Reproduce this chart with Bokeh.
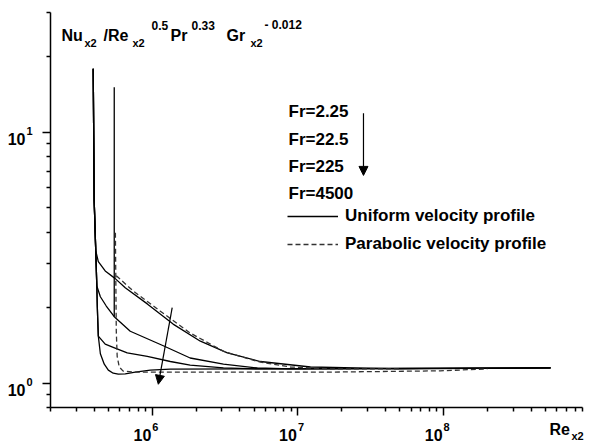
import math
from bokeh.plotting import figure
from bokeh.models import (Range1d, FixedTicker, CustomJSTickFormatter, Label, Arrow,
                          NormalHead, Legend, LegendItem, LogAxis)
from bokeh.embed import file_html
from bokeh.resources import INLINE

# ---------------- data ----------------
# Uniform velocity profile (solid), Fr = 2.25, 22.5, 225, 4500
re_u1 = [3.93e5, 3.99e5, 4.09e5, 4.26e5, 4.75e5, 5.57e5, 6.52e5, 9.24e5, 1.39e6, 2.14e6,
         3.28e6, 5.52e6, 1.22e7, 5.06e7, 5.43e8]
nu_u1 = [17.9, 5.35, 3.37, 3.05, 2.80, 2.61, 2.40, 2.07, 1.72, 1.47,
         1.32, 1.22, 1.16, 1.14, 1.15]

re_u2 = [3.93e5, 3.99e5, 4.09e5, 4.16e5, 4.40e5, 4.83e5, 5.48e5, 7.06e5, 1.19e6, 1.82e6,
         3.08e6, 5.27e6, 8.87e6, 5.43e8]
nu_u2 = [17.9, 5.35, 3.37, 2.44, 2.21, 2.03, 1.84, 1.61, 1.41, 1.26,
         1.19, 1.15, 1.14, 1.15]

re_u3 = [3.93e5, 3.99e5, 4.09e5, 4.16e5, 4.19e5, 4.26e5, 4.75e5, 5.39e5, 6.73e5, 9.24e5,
         1.33e6, 1.82e6, 3.08e6, 5.52e6, 5.43e8]
nu_u3 = [17.9, 5.35, 3.37, 2.44, 2.03, 1.54, 1.43, 1.39, 1.32, 1.28,
         1.22, 1.18, 1.15, 1.14, 1.15]

re_u4 = [3.93e5, 3.99e5, 4.09e5, 4.16e5, 4.19e5, 4.26e5, 4.40e5, 4.68e5, 4.99e5, 5.39e5,
         5.84e5, 6.52e5, 7.64e5, 9.69e5, 1.33e6, 4.72e6, 5.43e8]
nu_u4 = [17.9, 5.35, 3.37, 2.44, 2.03, 1.54, 1.31, 1.19, 1.127, 1.096,
         1.086, 1.09, 1.107, 1.127, 1.138, 1.14, 1.15]

# entry spike at the later start
re_spike = [5.48e5, 5.48e5]
nu_spike = [15.1, 1.84]

# Parabolic velocity profile (dashed)
re_p1 = [5.66e5, 7.40e5, 1.13e6, 1.82e6, 3.08e6, 5.27e6, 8.87e6, 1.67e7, 5.0e7]
nu_p1 = [2.68, 2.33, 1.94, 1.585, 1.34, 1.22, 1.16, 1.14, 1.14]

re_p2 = [5.58e5, 5.66e5, 5.74e5, 5.93e5, 6.31e5, 7.64e5, 2.14e6, 1.67e7, 9.5e7, 2.0e8]
nu_p2 = [3.98, 1.61, 1.28, 1.16, 1.117, 1.107, 1.107, 1.107, 1.12, 1.14]

fr_labels = ["Fr=2.25", "Fr=22.5", "Fr=225", "Fr=4500"]
legend_labels = ["Uniform velocity profile", "Parabolic velocity profile"]

# arrows (Re, Nu)
arrow_curves = (1.37e6, 2.0, 1.10e6, 0.99)
arrow_legend = (2.82e7, 11.9, 2.82e7, 6.73)

x_decades = [6, 7, 8]
y_decades = [0, 1]
x_lim = (2e5, 9e8)
y_lim = (0.8, 30)

FONT = "Liberation Sans"
W, H = 589, 443
# axes box in canvas pixels
BOX_L, BOX_R, BOX_T, BOX_B = 50, 582, 12, 407

# ranges chosen so the frame covers the whole canvas and the axes sit at the box
xs = (BOX_R - BOX_L) / (math.log10(x_lim[1]) - math.log10(x_lim[0]))
ys = (BOX_B - BOX_T) / (math.log10(y_lim[1]) - math.log10(y_lim[0]))
x_range = Range1d(10 ** (math.log10(x_lim[0]) - BOX_L / xs), 10 ** (math.log10(x_lim[1]) + (W - BOX_R) / xs))
y_range = Range1d(10 ** (math.log10(y_lim[0]) - (H - BOX_B) / ys), 10 ** (math.log10(y_lim[1]) + BOX_T / ys))

p = figure(width=W, height=H, x_axis_type="log", y_axis_type="log",
           x_range=x_range, y_range=y_range, x_axis_location=None, y_axis_location=None,
           output_backend="svg", toolbar_location=None, min_border=0)
p.outline_line_color = None
p.background_fill_color = "white"
p.border_fill_color = "white"
p.grid.visible = False

x_minor = [m * 10.0 ** d for d in range(5, 9) for m in range(2, 10)]
y_minor = [0.8, 0.9] + [m * 10.0 ** d for d in (0, 1) for m in range(2, 10)]
xaxis = LogAxis(ticker=FixedTicker(ticks=[10.0 ** d for d in x_decades], minor_ticks=x_minor),
                fixed_location=y_lim[0], bounds=x_lim)
yaxis = LogAxis(ticker=FixedTicker(ticks=[10.0 ** d for d in y_decades], minor_ticks=y_minor),
                fixed_location=x_lim[0], bounds=y_lim)
for ax in (xaxis, yaxis):
    ax.formatter = CustomJSTickFormatter(code="return ''")
    ax.axis_line_width = 1.5
    ax.axis_line_color = "black"
    ax.major_tick_line_width = 1.5
    ax.minor_tick_line_width = 1.5
    ax.major_tick_line_color = "black"
    ax.minor_tick_line_color = "black"
    ax.major_tick_in = 0
    ax.minor_tick_in = 0
    ax.major_tick_out = 8
    ax.minor_tick_out = 4
    ax.major_label_standoff = 0
p.add_layout(xaxis, "below")
p.add_layout(yaxis, "left")

LW = 1.3
r_u1 = p.line(re_u1, nu_u1, line_color="black", line_width=LW)
p.line(re_u2, nu_u2, line_color="black", line_width=LW)
p.line(re_u3, nu_u3, line_color="black", line_width=LW)
p.line(re_u4, nu_u4, line_color="black", line_width=LW)
p.line(re_spike, nu_spike, line_color="black", line_width=LW)
r_p1 = p.line(re_p1, nu_p1, line_color="#333333", line_width=LW, line_dash="5 3")
p.line(re_p2, nu_p2, line_color="#333333", line_width=LW, line_dash="5 3")

# arrows
for (x0, y0, x1, y1) in (arrow_curves, arrow_legend):
    p.add_layout(Arrow(x_start=x0, y_start=y0, x_end=x1, y_end=y1,
                       line_color="black", line_width=1.2,
                       end=NormalHead(size=9, fill_color="black", line_color="black")))

# legend (location in canvas px from bottom-left)
legend = Legend(items=[LegendItem(label=legend_labels[0], renderers=[r_u1]),
                       LegendItem(label=legend_labels[1], renderers=[r_p1])],
                location=(287, H - 254), padding=0, margin=0, spacing=8,
                glyph_width=51, glyph_height=20, label_height=20, label_standoff=7,
                border_line_color=None, background_fill_alpha=0,
                label_text_font=FONT, label_text_font_style="bold",
                label_text_font_size="17px", label_text_color="black")
p.add_layout(legend)


def lab(x, y, t, size, xu="screen", yu="screen", align="left", xo=0, yo=0):
    p.add_layout(Label(x=x, y=y, x_units=xu, y_units=yu, text=t, text_align=align,
                       x_offset=xo, y_offset=yo, text_font=FONT, text_font_style="bold",
                       text_font_size=size, text_baseline="alphabetic", text_color="black"))


# Fr labels (canvas baselines)
for t, base in zip(fr_labels, [111, 139, 166, 193]):
    lab(288, H - base, t, "17px")

# x tick labels
for d in x_decades:
    lab(10.0 ** d, y_lim[0], "10", "16px", xu="data", yu="data", align="right", xo=-1, yo=-27)
    lab(10.0 ** d, y_lim[0], str(d), "11px", xu="data", yu="data", align="left", xo=0, yo=-19)
# y tick labels
for d in y_decades:
    lab(x_lim[0], 10.0 ** d, "10", "16px", xu="data", yu="data", align="right", xo=-25, yo=-7)
    lab(x_lim[0], 10.0 ** d, str(d), "11px", xu="data", yu="data", align="left", xo=-24, yo=1)

# y title pieces (canvas x, canvas baseline y)
title_parts = [("Nu", 61, 35, "16px"), ("x2", 84, 42, "11px"), ("/Re", 103, 35, "16px"),
               ("x2", 132, 42, "11px"), ("0.5", 151, 25, "12px"), ("Pr", 170, 35, "16px"),
               ("0.33", 191, 25, "12px"), ("Gr", 226, 35, "16px"), ("x2", 250, 42, "11px"),
               ("- 0.012", 264, 24, "12px")]
for t, cx, cy, s in title_parts:
    lab(cx, H - cy, t, s)

# x title
lab(549, H - 429, "Re", "16px")
lab(571, H - 435, "x2", "11px")

open("out.html", "w").write(file_html(p, INLINE))
